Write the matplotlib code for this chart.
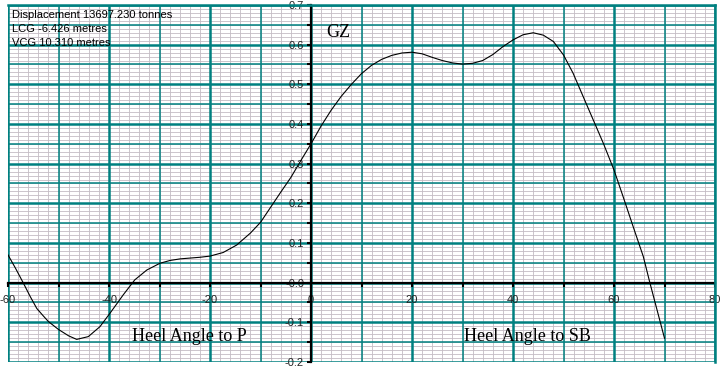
import numpy as np
import matplotlib
matplotlib.use("Agg")
import matplotlib.pyplot as plt
from matplotlib.ticker import FixedLocator, FuncFormatter

# GZ curve
heel = [-60, -58.5, -57, -55.6, -54.3, -53, -52, -50, -48, -46.4, -44.1,
        -41.8, -39.8, -37.2, -34.9, -32.5, -29.9, -27.9, -25.9, -22, -20,
        -17.4, -14.7, -12, -10, -8, -6, -4, -2, 0, 2, 4, 6, 8, 10, 12, 14,
        16, 18, 20, 22, 24, 26, 28, 30, 32, 34, 36, 38, 40, 42, 44, 46, 48,
        50, 51.9, 53.9, 55.9, 57.9, 60, 61.8, 63.8, 65.8, 67.1, 70]
gz = [0.07, 0.036, 0.0, -0.035, -0.065, -0.084, -0.098, -0.118, -0.134,
      -0.143, -0.136, -0.111, -0.077, -0.031, 0.007, 0.032, 0.049, 0.056,
      0.06, 0.064, 0.067, 0.076, 0.095, 0.125, 0.152, 0.19, 0.228, 0.265,
      0.308, 0.35, 0.395, 0.435, 0.47, 0.5, 0.527, 0.548, 0.563, 0.573,
      0.579, 0.581, 0.577, 0.568, 0.56, 0.554, 0.551, 0.553, 0.56, 0.575,
      0.595, 0.612, 0.625, 0.63, 0.624, 0.608, 0.574, 0.528, 0.469, 0.41,
      0.351, 0.284, 0.217, 0.141, 0.066, 0.0, -0.14]

info = ["Displacement 13697.230 tonnes", "LCG -6.426 metres", "VCG 10.310 metres"]

teal = "#008080"
minor_col = "#c4bcc4"

fig = plt.figure(figsize=(7.22, 3.68), dpi=100)
ax = fig.add_axes([8 / 722, 6 / 368, 707 / 722, 357 / 368])
ax.set_xlim(-60, 80)
ax.set_ylim(-0.2, 0.7)

# graph paper grid
for x in np.arange(-60, 80.1, 2):
    ax.axvline(x, color=minor_col, lw=0.6, zorder=0)
for y in np.arange(-0.2, 0.701, 0.01):
    ax.axhline(y, color=minor_col, lw=0.6, zorder=0)
for x in np.arange(-50, 80, 20):
    ax.axvline(x, color=teal, lw=1.1, zorder=1)
for x in np.arange(-60, 80.1, 20):
    ax.axvline(x, color=teal, lw=1.8, zorder=1)
for y in np.arange(-0.15, 0.7, 0.1):
    ax.axhline(y, color=teal, lw=1.1, zorder=1)
for y in np.arange(-0.2, 0.701, 0.1):
    ax.axhline(y, color=teal, lw=1.8, zorder=1)

ax.plot(heel, gz, color="black", lw=0.8, zorder=3)

for s in ["top", "right"]:
    ax.spines[s].set_color(teal)
    ax.spines[s].set_linewidth(1.8)
for s in ["left", "bottom"]:
    ax.spines[s].set_position(("data", 0))
    ax.spines[s].set_color("black")
    ax.spines[s].set_linewidth(1.6)
    ax.spines[s].set_zorder(2)

ax.xaxis.set_major_locator(FixedLocator(np.arange(-60, 81, 10)))
ax.xaxis.set_major_formatter(FuncFormatter(lambda v, p: f"{v:.0f}" if round(v) % 20 == 0 else ""))
ax.yaxis.set_major_locator(FixedLocator(np.round(np.arange(-0.2, 0.701, 0.05), 2)))
ax.yaxis.set_major_formatter(FuncFormatter(lambda v, p: f"{v:.1f}" if abs(round(v * 100)) % 10 == 0 else ""))
ax.tick_params(axis="both", direction="out", length=3, width=1.5, color="black",
               labelsize=8, labelcolor="#222222", pad=2)
ax.tick_params(axis="x", pad=6)
for lab in ax.get_xticklabels() + ax.get_yticklabels():
    lab.set_fontfamily("Liberation Sans")

ax.text(5.5, 0.63, "GZ", family="Liberation Serif", fontsize=13, ha="center", va="center", zorder=4)
ax.text(-24, -0.135, "Heel Angle to P", family="Liberation Serif", fontsize=13,
        ha="center", va="center", zorder=4)
ax.text(42.8, -0.135, "Heel Angle to SB", family="Liberation Serif", fontsize=13,
        ha="center", va="center", zorder=4)

for i, line in enumerate(info):
    fig.text(12 / 722, 1 - (15 + 14 * i) / 368, line, family="Liberation Sans",
             fontsize=8, va="center", ha="left")

fig.savefig("out.png", dpi=100)
